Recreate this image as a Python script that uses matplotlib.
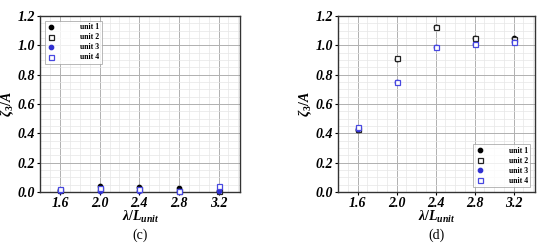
import matplotlib
matplotlib.use('Agg')
import matplotlib.pyplot as plt
from matplotlib.ticker import MultipleLocator

plt.rcParams['font.family'] = ['Liberation Serif', 'DejaVu Serif']
plt.rcParams['mathtext.fontset'] = 'custom'
plt.rcParams['mathtext.it'] = 'Liberation Serif:italic:bold'
plt.rcParams['mathtext.rm'] = 'Liberation Serif:bold'

# wavelength ratio
x_vals = [1.6, 2.0, 2.4, 2.8, 3.2]
labels = ['unit 1', 'unit 2', 'unit 3', 'unit 4']

# panel (c)
c_unit1 = [0.015, 0.040, 0.035, 0.030, 0.010]
c_unit2 = [0.015, 0.020, 0.020, 0.010, 0.005]
c_unit3 = [0.010, 0.010, 0.010, 0.005, 0.010]
c_unit4 = [0.020, 0.030, 0.020, 0.010, 0.040]

# panel (d)
d_unit1 = [0.425, 0.905, 1.125, 1.050, 1.050]
d_unit2 = [0.430, 0.915, 1.125, 1.050, 1.040]
d_unit3 = [0.430, 0.750, 0.990, 1.010, 1.020]
d_unit4 = [0.440, 0.750, 0.990, 1.010, 1.025]

styles = [
    dict(marker='o', color='black', mfc='black', ms=3.2),
    dict(marker='s', color='#222222', mfc='white', ms=3.6),
    dict(marker='o', color='#3030d0', mfc='#3030d0', ms=3.2),
    dict(marker='s', color='#4848e0', mfc='white', ms=3.6),
]


def draw_panel(ax, series, legend_loc, tag):
    for ys, lab, st in zip(series, labels, styles):
        ax.plot(x_vals, ys, linestyle='none', marker=st['marker'],
                color=st['color'], mfc=st['mfc'], mec=st['color'],
                markersize=st['ms'], mew=0.9, label=lab, clip_on=False,
                zorder=3)
    ax.set_xlim(1.4, 3.42)
    ax.set_ylim(0, 1.2)
    ax.xaxis.set_major_locator(MultipleLocator(0.4))
    ax.yaxis.set_major_locator(MultipleLocator(0.2))
    ax.xaxis.set_minor_locator(MultipleLocator(0.1))
    ax.yaxis.set_minor_locator(MultipleLocator(0.05))
    ax.grid(True, which='major', color='#b0b0b0', linewidth=0.7)
    ax.grid(True, which='minor', color='#e6e6e6', linewidth=0.5)
    ax.set_axisbelow(True)
    ax.tick_params(which='major', length=2, width=0.8, pad=1.5)
    ax.tick_params(which='minor', length=0)
    for t in ax.get_xticklabels() + ax.get_yticklabels():
        t.set_fontsize(10)
        t.set_fontweight('bold')
        t.set_fontstyle('italic')
    for sp in ax.spines.values():
        sp.set_linewidth(1.0)
        sp.set_color('#333333')
    ax.set_xlabel(r'$\lambda/L_{unit}$', fontsize=10, labelpad=-0.5)
    ax.set_ylabel(r'$\zeta_3/A$', fontsize=10, labelpad=1)
    leg = ax.legend(loc=legend_loc, frameon=True,
                    fancybox=False, edgecolor='#999999', handlelength=1.0,
                    handletextpad=3.2, borderpad=0.35, labelspacing=0.25,
                    borderaxespad=0.6,
                    prop={'weight': 'bold', 'size': 5.6})
    leg.get_frame().set_linewidth(0.6)
    ax.text(0.5, -0.245, tag, transform=ax.transAxes, ha='center',
            va='center', fontsize=10)


fig = plt.figure(figsize=(5.5, 2.43), dpi=100)
ax_c = fig.add_axes([0.073, 0.21, 0.364, 0.724])
ax_d = fig.add_axes([0.615, 0.21, 0.358, 0.724])

draw_panel(ax_c, [c_unit1, c_unit2, c_unit3, c_unit4], 'upper left', '(c)')
draw_panel(ax_d, [d_unit1, d_unit2, d_unit3, d_unit4], 'lower right', '(d)')

fig.savefig('out.png', dpi=100)
